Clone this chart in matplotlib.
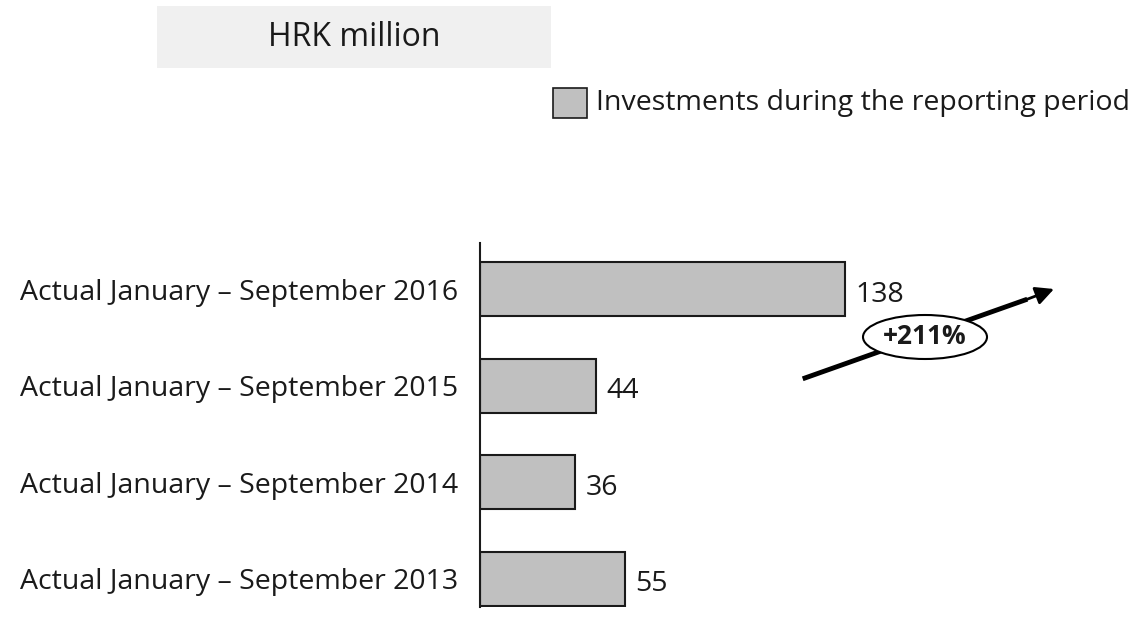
import matplotlib.pyplot as plt
from matplotlib.patches import Ellipse, Rectangle

# ==============================
# DATOS
# ==============================

periodos = [
    "Actual January – September 2013",
    "Actual January – September 2014",
    "Actual January – September 2015",
    "Actual January – September 2016",
]
inversiones = [55, 36, 44, 138]
serie_nombre = "Investments during the reporting period"
unidad = "HRK million"
crecimiento = "+211%"

# ==============================
# FIGURA
# ==============================

plt.rcParams["font.family"] = ["Open Sans", "DejaVu Sans"]

W, H = 1142, 625
fig = plt.figure(figsize=(W / 100, H / 100), dpi=100)


def fx(px):
    return px / W


def fy(py):
    return 1 - py / H


ax = fig.add_axes([fx(480), fy(607), fx(1142 - 480), (607 - 243) / H])

y = list(range(len(periodos)))
ax.barh(y, inversiones, height=0.56, color="#c0c0c0", edgecolor="#1a1a1a", linewidth=1.5)

for yi, v in zip(y, inversiones):
    ax.text(v + 3.8, yi - 0.06, str(v), va="center", ha="left", fontsize=20.5, color="#1a1a1a")

ax.set_xlim(0, (1142 - 480) / 2.645)
ax.set_ylim(-0.295, 3.477)
ax.set_yticks(y)
ax.set_yticklabels(periodos, fontsize=20.5, color="#1a1a1a")
ax.tick_params(axis="y", length=0, pad=16)
ax.set_xticks([])
for s in ["top", "right", "bottom"]:
    ax.spines[s].set_visible(False)
ax.spines["left"].set_linewidth(1.5)
ax.spines["left"].set_color("#1a1a1a")

# caja de unidades
fig.patches.append(Rectangle((fx(157), fy(68)), fx(551 - 157), (68 - 6) / H,
                             transform=fig.transFigure, facecolor="#f0f0f0", edgecolor="none"))
fig.text(fx(354), fy(38), unidad, ha="center", va="center", fontsize=23, color="#1a1a1a")

# leyenda
fig.patches.append(Rectangle((fx(553), fy(118)), fx(34), 30 / H, transform=fig.transFigure,
                             facecolor="#c0c0c0", edgecolor="#1a1a1a", linewidth=1.2))
fig.text(fx(596), fy(103), serie_nombre, ha="left", va="center", fontsize=20.5, color="#1a1a1a")

# flecha de crecimiento
fig.add_artist(plt.Line2D([fx(805), fx(1025)], [fy(378), fy(300)], transform=fig.transFigure,
                          color="black", linewidth=3.5, zorder=2))
ax.annotate("", xy=(fx(1054), fy(289)), xytext=(fx(1020), fy(302)),
            xycoords="figure fraction", textcoords="figure fraction",
            arrowprops=dict(arrowstyle="-|>,head_length=1.1,head_width=0.55", color="black",
                            linewidth=2, shrinkA=0, shrinkB=0))
elipse = Ellipse((fx(925), fy(337)), fx(124), 44 / H, transform=fig.transFigure,
                 facecolor="white", edgecolor="black", linewidth=1.5, zorder=5)
fig.add_artist(elipse)
fig.text(fx(925), fy(337), crecimiento, ha="center", va="center", fontsize=19,
         fontweight="bold", color="#1a1a1a", zorder=6)

fig.savefig("out.png", dpi=100)
